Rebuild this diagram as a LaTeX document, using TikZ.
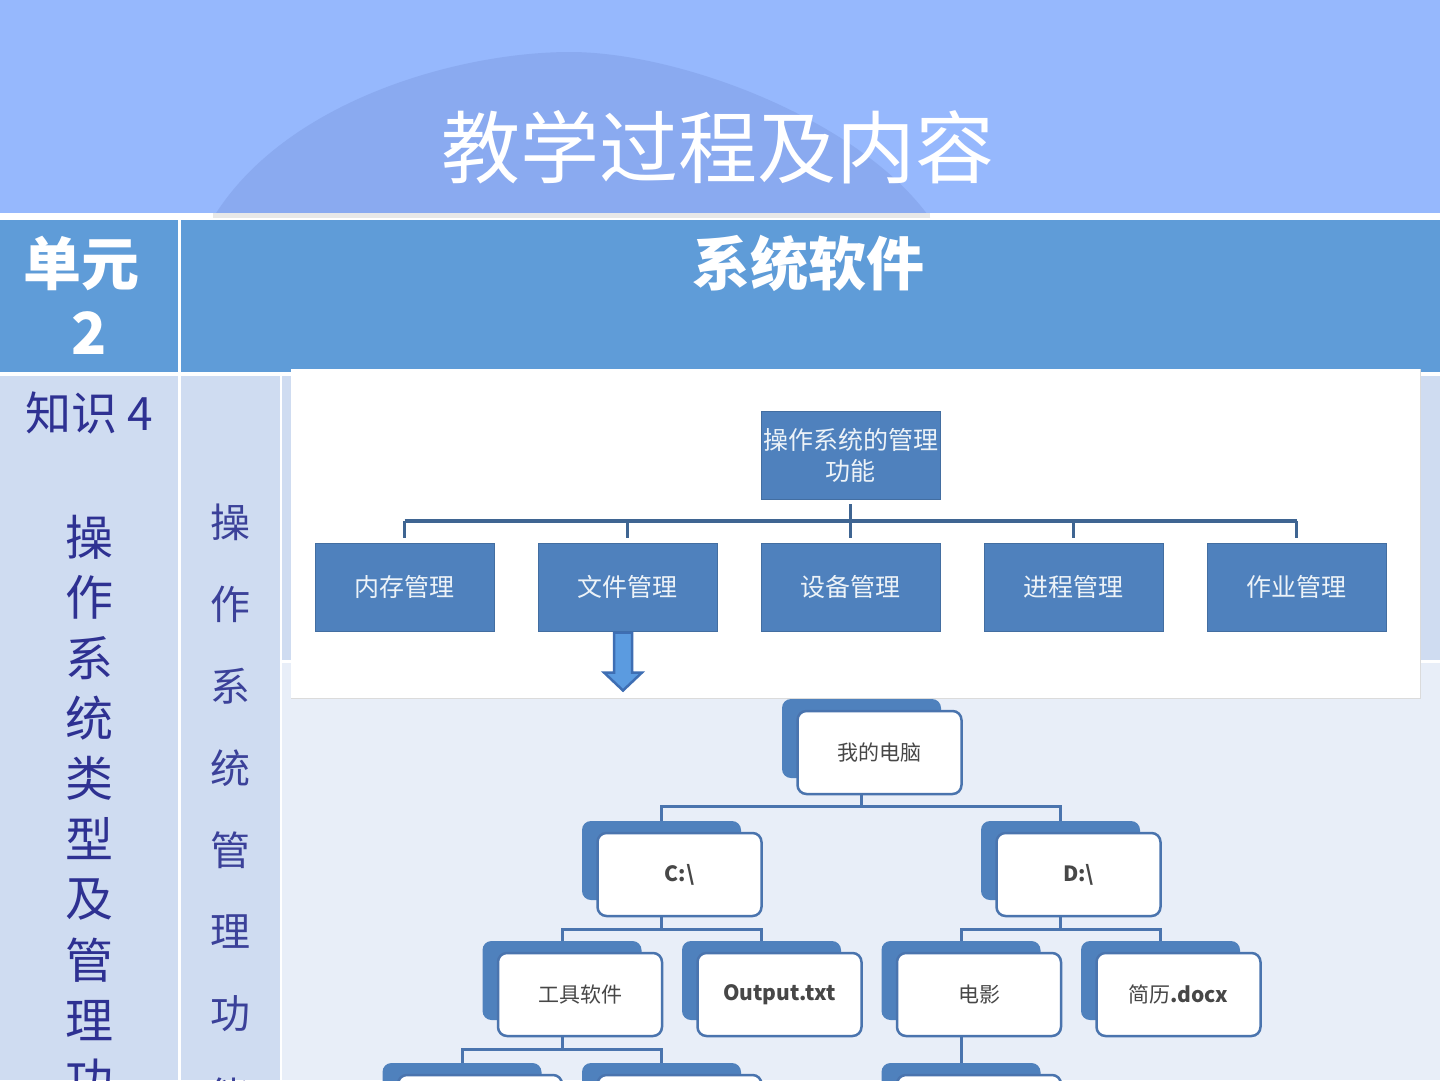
\documentclass[tikz,border=0pt]{standalone}
\usepackage{fontspec}
\setmainfont{Noto Sans CJK SC}
\usetikzlibrary{calc,positioning}
\definecolor{bandBlue}{HTML}{96B8FD}
\definecolor{arcBlue}{HTML}{8AAAF0}
\definecolor{headBlue}{HTML}{5F9CD8}
\definecolor{cellBg}{HTML}{CFDCF1}
\definecolor{cellBgLight}{HTML}{E8EEF8}
\definecolor{boxBlue}{HTML}{4F81BD}
\definecolor{lineBlue}{HTML}{3F6592}
\definecolor{treeBlue}{HTML}{4A74AE}
\definecolor{arrowBlue}{HTML}{5B9BE0}
\definecolor{arrowEdge}{HTML}{3E6EB3}
\definecolor{inkBlue}{HTML}{2E3192}
\definecolor{inkBlueSoft}{HTML}{3B4199}
\tikzset{
    titleText/.style={text=white, font=\fontsize{79}{90}\selectfont, inner sep=0pt},
    headText/.style={text=white, font=\fontsize{58}{66}\selectfont\bfseries, inner sep=0pt},
    sideChar/.style={text=inkBlue, font=\fontsize{48}{56}\selectfont, inner sep=0pt},
    sideCharSmall/.style={text=inkBlueSoft, font=\fontsize{40}{48}\selectfont, inner sep=0pt},
    funcBox/.style={fill=boxBlue, draw=boxBlue!85!black, line width=1pt,
                    minimum width=179pt, minimum height=88pt, inner sep=0pt,
                    align=center, text=white!90!boxBlue,
                    font=\fontsize{25}{31}\selectfont},
    orgLine/.style={draw=lineBlue, line width=3.5pt},
    blockArrow/.style={fill=arrowBlue, draw=arrowEdge, line width=2.5pt, line join=miter},
    backBox/.style={fill=boxBlue, draw=none, rounded corners=9pt,
                    minimum width=159pt, minimum height=79pt, inner sep=0pt},
    frontBox/.style={fill=white, draw=treeBlue, line width=2.5pt, rounded corners=9pt,
                     minimum width=164pt, minimum height=83pt, inner sep=0pt,
                     text=black!72, font=\fontsize{21}{26}\selectfont},
    treeLink/.style={draw=treeBlue, line width=3pt},
}
% back card + front card of one folder entry
\newcommand{\dirbox}[4]{%
  \node[backBox] (#1) at (#2,#3) {};
  \node[frontBox] (#1F) at ($(#1)+(18,14)$) {#4};
}

\begin{document}
\begin{tikzpicture}[x=1pt,y=-1pt]
\useasboundingbox (0,0) rectangle (1440,1080);
\clip (0,0) rectangle (1440,1080);

% ---------------- BACKGROUND ----------------
\fill[white] (0,0) rectangle (1440,1080);
\fill[bandBlue] (0,0) rectangle (1440,213);
\fill[arcBlue] (213,218) .. controls (285,100) and (460,52) .. (570,52)
  .. controls (680,52) and (860,120) .. (930,218) -- cycle;
\fill[black!9] (213,213) rectangle (930,218);
\fill[white] (0,218) rectangle (1440,220);

% table cells
\fill[headBlue] (0,220) rectangle (178,372);
\fill[headBlue] (181,220) rectangle (1440,372);
\fill[cellBg] (0,376) rectangle (178,1080);
\fill[cellBg] (181,376) rectangle (280,1080);
\fill[cellBg] (282,376) rectangle (1440,660);
\fill[cellBgLight] (282,663) rectangle (1440,1080);

% ---------------- TEXTS ----------------
\node[titleText] (title) at (718,147) {教学过程及内容};
\node[headText] (unit) at (81.5,263) {单元};
\node[headText] (unitNo) at (89,333) {2};
\node[headText] (topic) at (808,263) {系统软件};

\node[sideChar, font=\fontsize{46}{54}\selectfont] (know) at (89.5,413) {知识 4};
\foreach \ch [count=\i from 0] in {操,作,系,统,类,型,及,管,理,功}
  \node[sideChar] (kc\i) at (89,{537+60.4*\i}) {\ch};
\foreach \ch [count=\i from 0] in {操,作,系,统,管,理,功,能}
  \node[sideCharSmall] (sc\i) at (230,{522+82*\i}) {\ch};

% ---------------- FUNCTION CHART ----------------
\fill[white] (291,369) rectangle (1420,698);
\draw[black!14, line width=1pt] (291,698) -- (1420,698) -- (1420,369);

\node[funcBox] (root) at (850.5,455.5) {操作系统的管理\\功能};
\node[funcBox] (fMem)  at (404.5,587) {内存管理};
\node[funcBox] (fFile) at (627.5,587) {文件管理};
\node[funcBox] (fDev)  at (850.5,587) {设备管理};
\node[funcBox] (fProc) at (1073.5,587) {进程管理};
\node[funcBox] (fJob)  at (1296.5,587) {作业管理};

\coordinate (bar) at (0,521);
\draw[orgLine, shorten <=4pt, shorten >=5pt] (root.south) -- (fDev.north);
\draw[orgLine] (fMem.north |- bar) -- (fJob.north |- bar);
\foreach \n in {fMem,fFile,fProc,fJob}
  \draw[orgLine, shorten >=5pt] (\n.north |- bar) -- (\n.north);

% down arrow to the folder tree
\coordinate (arrTop) at ($(fFile.south)+(-4.5,1)$);
\draw[blockArrow] ($(arrTop)+(-9,0)$) -- ++(0,40) -- ++(-10,0)
  -- ($(arrTop)+(0,58)$) -- ($(arrTop)+(19,40)$) -- ++(-10,0)
  -- ($(arrTop)+(9,0)$) -- cycle;

% ---------------- FOLDER TREE ----------------
\dirbox{pc}{861.5}{738.5}{我的电脑}
\dirbox{drC}{661.5}{860.5}{\bfseries C:\textbackslash}
\dirbox{drD}{1060.5}{860.5}{\bfseries D:\textbackslash}
\dirbox{tool}{562}{980.5}{工具软件}
\dirbox{outf}{761.5}{980.5}{\bfseries Output.txt}
\dirbox{movie}{961}{980.5}{电影}
\dirbox{cv}{1160.5}{980.5}{简历\bfseries .docx}
\dirbox{toolA}{462}{1102.5}{}
\dirbox{toolB}{661.5}{1102.5}{}
\dirbox{movieA}{961}{1102.5}{}

\draw[treeLink] (pc |- pcF.south) -- ++(0,11) -| (drC.north);
\draw[treeLink] (pc |- pcF.south) -- ++(0,11) -| (drD.north);
\draw[treeLink] (drC |- drCF.south) -- ++(0,12) -| (tool.north);
\draw[treeLink] (drC |- drCF.south) -- ++(0,12) -| (outf.north);
\draw[treeLink] (drD |- drDF.south) -- ++(0,12) -| (movie.north);
\draw[treeLink] (drD |- drDF.south) -- ++(0,12) -| (cv.north);
\draw[treeLink] (tool |- toolF.south) -- ++(0,12) -| (toolA.north);
\draw[treeLink] (tool |- toolF.south) -- ++(0,12) -| (toolB.north);
\draw[treeLink] (movie |- movieF.south) -- (movieA.north);

\end{tikzpicture}
\end{document}
